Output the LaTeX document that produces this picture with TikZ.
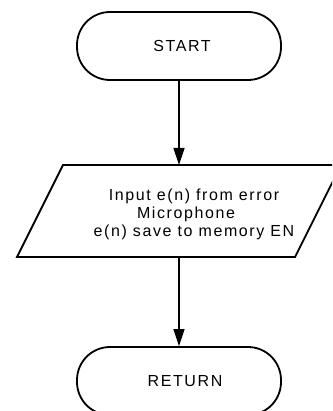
\documentclass[tikz,border=0pt]{standalone}
\usepackage{fontspec}
\setmainfont{Liberation Sans}[LetterSpace=10]
\usetikzlibrary{arrows.meta}
\begin{document}
\begin{tikzpicture}[x=1pt,y=-1pt,
  term/.style={draw,line width=1.8pt,rectangle,rounded corners=33pt,minimum width=204pt,minimum height=68pt,inner sep=0pt},
  txt/.style={font=\fontsize{16}{18}\selectfont,inner sep=0pt,align=center},
  conn/.style={line width=1.4pt,-{Triangle[length=17pt,width=11pt]}}]
\path[use as bounding box,clip] (0,0) rectangle (332,411);
\node[term] (start) at (179,46) {};
\node[txt] (starttxt) at (182,46) {START};
\node[term] (ret) at (179,381) {};
\node[txt] (rettxt) at (185,381) {RETURN};
\draw[line width=1.8pt,line join=miter] (63,165) -- (341,165) -- (295,257) -- (17,257) -- cycle;
\coordinate (ptop) at (179,165);
\coordinate (pbot) at (179,257);
\node[txt] (io) at (194,214.5) {Input e(n) from error\\Microphone\rule{16pt}{0pt}\\e(n) save to memory EN};
\draw[conn] (start.south) -- (ptop);
\draw[conn] (pbot) -- (ret.north);
\end{tikzpicture}
\end{document}
